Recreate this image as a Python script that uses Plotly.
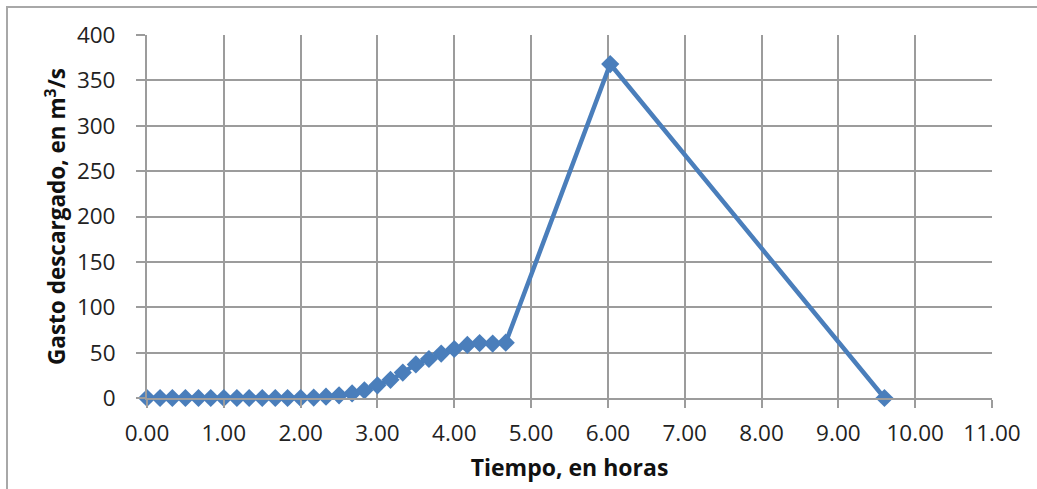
import plotly.graph_objects as go

tiempo_h = [0.00, 0.17, 0.33, 0.50, 0.67, 0.83, 1.00, 1.17, 1.33, 1.50,
            1.67, 1.83, 2.00, 2.17, 2.33, 2.50, 2.67, 2.83, 3.00, 3.17,
            3.33, 3.50, 3.67, 3.83, 4.00, 4.17, 4.33, 4.50, 4.67, 6.03, 9.60]
gasto_m3s = [0, 0, 0, 0, 0, 0, 0, 0, 0, 0,
             0, 0, 0, 0.5, 1.5, 3, 5, 8.5, 14, 20,
             28, 37, 43, 49, 54, 58.5, 60.5, 60, 61, 368, 0]

x_ticks = [0, 1, 2, 3, 4, 5, 6, 7, 8, 9, 10, 11]
y_ticks = [0, 50, 100, 150, 200, 250, 300, 350, 400]

FONT = "Open Sans"
GRID = "#9c9c9c"
BLUE = "#4a7ebb"

fig = go.Figure()
fig.add_trace(go.Scatter(
    x=tiempo_h, y=gasto_m3s, mode="lines+markers",
    line=dict(color=BLUE, width=4.5),
    marker=dict(symbol="diamond", size=14, color=BLUE),
    cliponaxis=False, showlegend=False,
))

W, H = 1037, 489
L, R, T, B = 147, 45, 35, 91
pw, ph = W - L - R, H - T - B

def px_x(p):
    return (p - L) / pw

def px_y(p):
    return (H - B - p) / ph

fig.update_layout(
    width=W, height=H,
    margin=dict(l=L, r=R, t=T, b=B),
    paper_bgcolor="white", plot_bgcolor="white",
    font=dict(family=FONT, size=22.5, color="#222222"),
    xaxis=dict(
        range=[0, 11], tickvals=x_ticks, tickformat=".2f",
        showgrid=True, gridcolor=GRID, gridwidth=2,
        showline=True, linecolor=GRID, linewidth=2,
        ticks="outside", ticklen=8, tickcolor=GRID, tickwidth=2,
        zeroline=False, ticklabelstandoff=6,
        title=dict(text="<b>Tiempo, en horas</b>", standoff=13,
                   font=dict(size=23, color="#111111")),
    ),
    yaxis=dict(
        range=[0, 400], tickvals=y_ticks,
        showgrid=True, gridcolor=GRID, gridwidth=2,
        showline=True, linecolor=GRID, linewidth=2,
        ticks="outside", ticklen=9, tickcolor=GRID, tickwidth=2,
        zeroline=False, ticklabelstandoff=16,
        title=dict(text="<b>Gasto descargado, en m<sup>3</sup>/s</b>", standoff=5,
                   font=dict(size=22.5, color="#111111")),
    ),
    shapes=[
        dict(type="rect", xref="paper", yref="paper",
             x0=px_x(7), x1=px_x(1045), y0=px_y(500), y1=px_y(7),
             line=dict(color="#a8a8a8", width=2), layer="below"),
    ],
)

fig.write_html("out.html")
